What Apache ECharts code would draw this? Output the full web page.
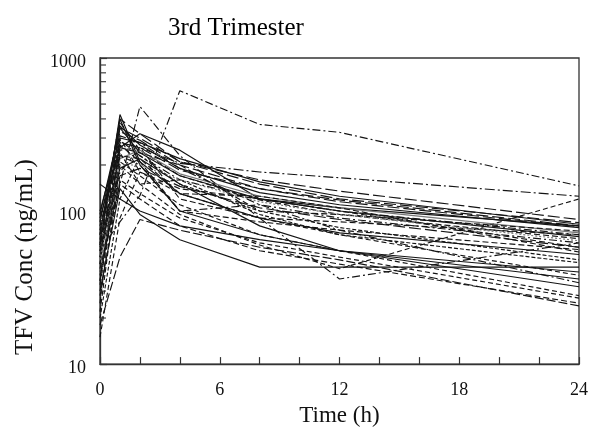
<!DOCTYPE html>
<html>
<head>
<meta charset="utf-8">
<script src="https://cdn.jsdelivr.net/npm/echarts@6/dist/echarts.min.js"></script>
<style>html,body{margin:0;padding:0;background:#fff}#c{width:591px;height:432px}</style>
</head>
<body>
<div id="c"></div>
<script>
// Sampling times (h)
const times = [0, 1, 2, 4, 8, 12, 24];
// Axis tick labels
const xTickLabels = [0, 6, 12, 18, 24];
const yTickLabels = [10, 100, 1000];
// TFV concentrations (ng/mL) per subject
const s01 = [55, 85, 126, 611, 368, 327, 146];
const s02 = [40, 150, 482, 230, 90, 36, 62];
const s03 = [60, 427, 210, 130, 90, 72, 52];
const s04 = [70, 400, 320, 210, 150, 120, 84];
const s05 = [45, 380, 250, 170, 118, 95, 66];
const s06 = [85, 360, 270, 190, 132, 110, 78];
const s07 = [50, 180, 260, 205, 180, 165, 125];
const s08 = [35, 200, 150, 95, 60, 42, 120];
const s09 = [30, 140, 95, 65, 43, 43, 43];
const s10 = [25, 300, 180, 140, 120, 100, 58];
const s11 = [65, 330, 290, 200, 140, 118, 80];
const s12 = [90, 260, 320, 250, 120, 105, 80];
const s13 = [75, 290, 230, 160, 120, 100, 70];
const s14 = [55, 250, 260, 120, 90, 85, 70];
const s15 = [40, 220, 250, 175, 125, 105, 72];
const s16 = [20, 120, 230, 150, 100, 78, 48];
const s17 = [15, 90, 180, 130, 90, 70, 38];
const s18 = [150, 120, 100, 80, 65, 55, 40];
const s19 = [60, 350, 300, 210, 160, 135, 88];
const s20 = [45, 310, 280, 190, 110, 75, 34];
const s21 = [35, 270, 210, 100, 85, 75, 56];
const s22 = [70, 400, 200, 100, 70, 55, 32];
const s23 = [22, 210, 170, 110, 70, 55, 28];
const s24 = [50, 240, 150, 160, 95, 70, 46];
const s25 = [100, 300, 280, 220, 155, 125, 82];
const s26 = [80, 260, 240, 200, 100, 95, 74];
const s27 = [48, 200, 200, 160, 115, 95, 64];
const s28 = [38, 170, 190, 145, 105, 88, 58];
const s29 = [62, 230, 200, 100, 110, 90, 62];
const s30 = [28, 160, 130, 90, 62, 50, 27];
const s31 = [55, 190, 220, 150, 80, 55, 36];
const s32 = [42, 150, 120, 80, 55, 45, 25];
const s33 = [18, 50, 88, 75, 58, 48, 24];
const s34 = [95, 350, 240, 170, 120, 100, 68];
const s35 = [58, 280, 260, 185, 140, 115, 79];
const s36 = [33, 230, 220, 130, 125, 105, 54];

const subjects = [s01,s02,s03,s04,s05,s06,s07,s08,s09,s10,s11,s12,s13,s14,s15,s16,s17,s18,
                  s19,s20,s21,s22,s23,s24,s25,s26,s27,s28,s29,s30,s31,s32,s33,s34,s35,s36];

// line styles (presentation only)
const dashStyles = [
  [8,3,2,3], [8,3,2,3], 'solid', [12,4], [6,3], 'solid', [10,3,2,3], [5,3], 'solid', [6,3],
  [12,4], 'solid', [8,3,2,3], [6,3], 'solid', [4,2], [5,3], 'solid', [12,4], [8,3,2,3],
  [6,3], 'solid', [5,3], [4,2], 'solid', [6,3], [2,2], [12,4], [8,3,2,3], [5,3],
  'solid', [6,3], [9,3], 'solid', [12,4], [6,3]
];
const grayIdx = [26, 14];

const chart = echarts.init(document.getElementById('c'), null, {renderer: 'canvas'});
const FONT = '"Liberation Serif", "Times New Roman", serif';

const series = subjects.map((vals, i) => ({
  type: 'line',
  data: times.map((t, j) => [t, vals[j]]),
  showSymbol: false,
  silent: true,
  lineStyle: {
    color: grayIdx.indexOf(i) >= 0 ? '#777' : '#141414',
    width: 1.15,
    type: dashStyles[i]
  },
  z: 2
}));

chart.setOption({
  animation: false,
  backgroundColor: '#fff',
  title: {
    text: '3rd Trimester',
    left: 163, top: 11,
    textStyle: {fontFamily: FONT, fontSize: 25, fontWeight: 'normal', color: '#000'}
  },
  grid: {
    left: 100, right: 12, top: 58, bottom: 65,
    show: true, borderColor: '#333', borderWidth: 1.3, backgroundColor: 'transparent'
  },
  xAxis: {
    type: 'value', min: 0, max: 24, interval: 2,
    name: 'Time (h)', nameLocation: 'middle', nameGap: 34,
    nameTextStyle: {fontFamily: FONT, fontSize: 23, color: '#111'},
    axisLine: {lineStyle: {color: '#333', width: 1.3}},
    axisTick: {inside: true, length: 7, lineStyle: {color: '#333', width: 1.2}},
    axisLabel: {
      margin: 17, fontFamily: FONT, fontSize: 18, color: '#111',
      formatter: v => (xTickLabels.indexOf(v) >= 0 ? String(v) : '')
    },
    splitLine: {show: false}
  },
  yAxis: {
    type: 'log', logBase: 10, min: 10, max: 1000,
    axisLine: {show: true, lineStyle: {color: '#333', width: 1.3}},
    axisTick: {inside: true, length: 7, lineStyle: {color: '#333', width: 1.2}},
    axisLabel: {show: false},
    splitLine: {show: false}
  },
  series: series
});

// minor log ticks (2..9 in each decade) and y labels placed through the axis scale
const minorVals = [];
for (let d = 10; d < 1000; d *= 10) for (let k = 2; k <= 9; k++) minorVals.push(d * k);
const x0 = chart.convertToPixel({xAxisIndex: 0}, 0);
const graphics = minorVals.map(v => {
  const y = chart.convertToPixel({yAxisIndex: 0}, v);
  return {type: 'line', shape: {x1: x0, y1: y, x2: x0 + 6, y2: y},
          style: {stroke: '#333', lineWidth: 1.1}, silent: true, z: 5};
});
yTickLabels.forEach(v => {
  const y = chart.convertToPixel({yAxisIndex: 0}, v);
  graphics.push({
    type: 'text', x: x0 - 14, y: y + 4,
    style: {text: String(v), font: '18px ' + FONT, fill: '#111',
            textAlign: 'right', textVerticalAlign: 'middle'},
    silent: true
  });
});
graphics.push({
  type: 'text', x: 25, y: 257, rotation: Math.PI / 2,
  style: {text: 'TFV Conc (ng/mL)', font: '25px ' + FONT, fill: '#111',
          textAlign: 'center', textVerticalAlign: 'middle'},
  silent: true
});
chart.setOption({graphic: graphics});
</script>
</body>
</html>
